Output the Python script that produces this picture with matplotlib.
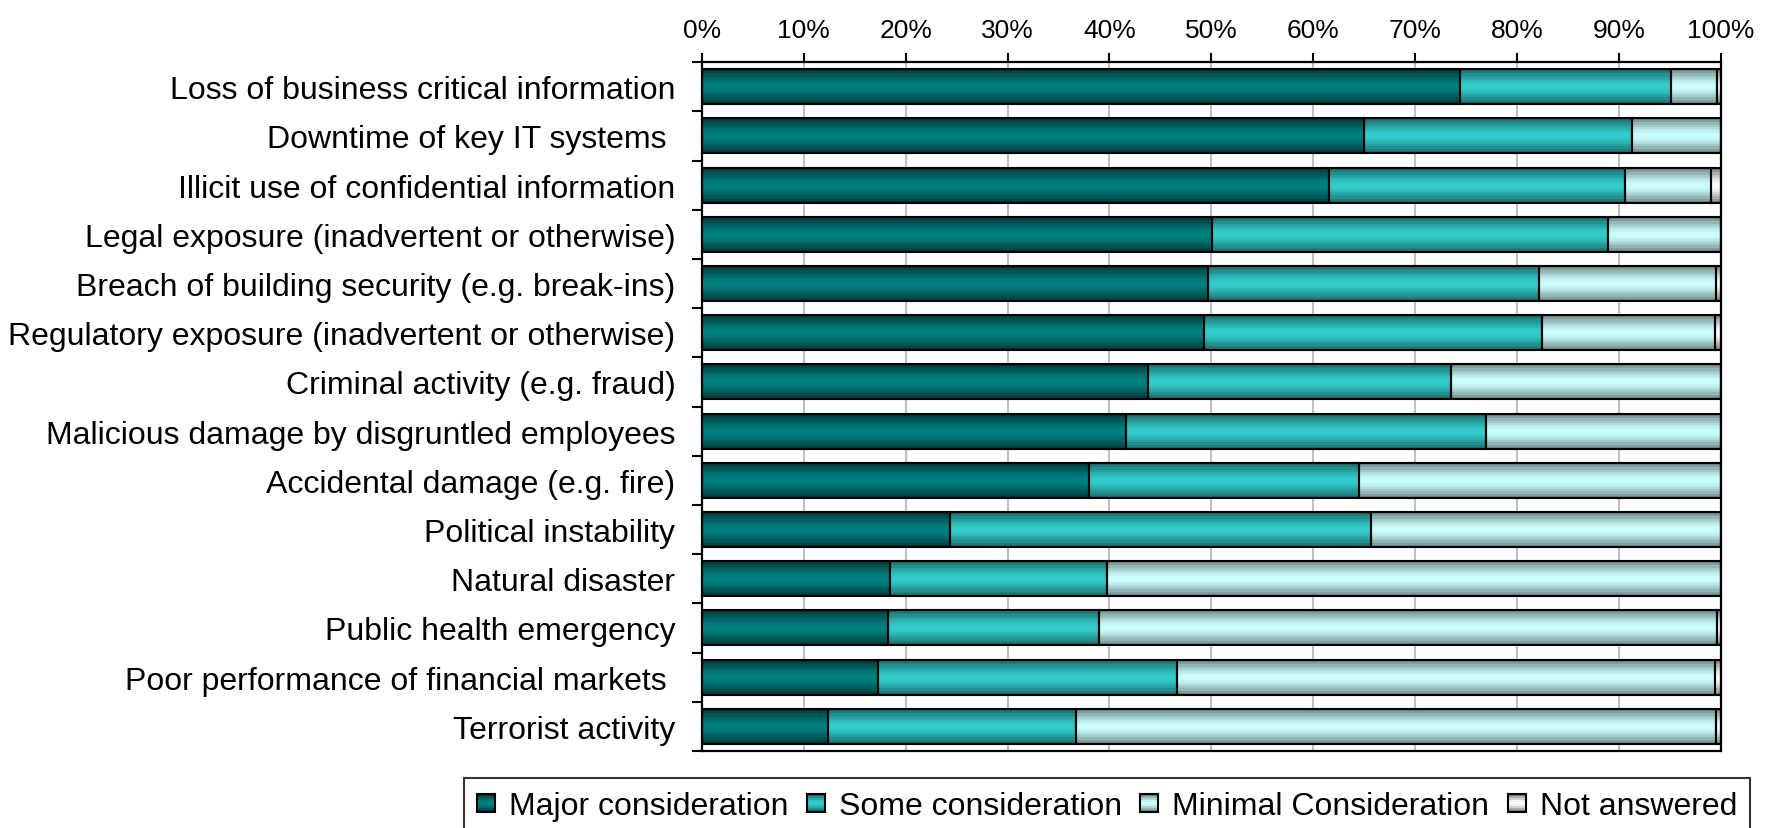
import matplotlib
matplotlib.use('Agg')
import matplotlib.pyplot as plt
import numpy as np
from matplotlib.patches import Rectangle
from matplotlib.legend_handler import HandlerBase

plt.rcParams['font.family'] = ['Liberation Sans', 'DejaVu Sans']

categories = ['Loss of business critical information',
              'Downtime of key IT systems ',
              'Illicit use of confidential information',
              'Legal exposure (inadvertent or otherwise)',
              'Breach of building security (e.g. break-ins)',
              'Regulatory exposure (inadvertent or otherwise)',
              'Criminal activity (e.g. fraud)',
              'Malicious damage by disgruntled employees',
              'Accidental damage (e.g. fire)',
              'Political instability',
              'Natural disaster',
              'Public health emergency',
              'Poor performance of financial markets ',
              'Terrorist activity']

major = [74.4, 65.0, 61.5, 50.1, 49.7, 49.3, 43.8, 41.6, 38.0, 24.4, 18.5, 18.3, 17.3, 12.4]
some = [20.7, 26.3, 29.1, 38.8, 32.4, 33.1, 29.7, 35.3, 26.5, 41.3, 21.3, 20.7, 29.3, 24.3]
minimal = [4.5, 8.7, 8.4, 11.1, 17.4, 17.0, 26.5, 23.1, 35.5, 34.3, 60.2, 60.6, 52.8, 62.8]
not_answered = [0.4, 0.0, 1.0, 0.0, 0.5, 0.6, 0.0, 0.0, 0.0, 0.0, 0.0, 0.4, 0.6, 0.5]

series_names = ['Major consideration', 'Some consideration',
                'Minimal Consideration', 'Not answered']
xticks = [0, 10, 20, 30, 40, 50, 60, 70, 80, 90, 100]

# (edge colour, middle colour) of each gradient
grads = [('#003838', '#008080'),
         ('#1c6868', '#33cccc'),
         ('#6e8686', '#ccffff'),
         ('#7a7a7a', '#ffffff')]


def grad_colors(edge, mid, n=16, p=1.6):
    e = np.array(matplotlib.colors.to_rgb(edge))
    m = np.array(matplotlib.colors.to_rgb(mid))
    t = np.abs(np.linspace(-1, 1, n))
    return np.array([m + (e - m) * (v ** p) for v in t])


class GradHandler(HandlerBase):
    def __init__(self, edge, mid):
        super().__init__()
        self.edge = edge
        self.mid = mid

    def create_artists(self, legend, orig_handle, xdescent, ydescent,
                       width, height, fontsize, trans):
        w = 18 * 72 / 100.0
        h = 18 * 72 / 100.0
        x0 = -xdescent + (width - w) / 2
        y0 = -ydescent + (height - h) / 2
        cols = grad_colors(self.edge, self.mid, n=9)
        arts = []
        for k, c in enumerate(cols):
            arts.append(Rectangle((x0, y0 + k * h / len(cols)), w, h / len(cols) + 0.2,
                                  facecolor=c, edgecolor='none', transform=trans))
        arts.append(Rectangle((x0, y0), w, h, facecolor='none', edgecolor='black',
                              linewidth=1.5, transform=trans))
        return arts


fig = plt.figure(figsize=(17.69, 8.29), dpi=100)
ax = fig.add_axes([0.3967, 0.0929, 0.5762, 0.831])

y = np.arange(len(categories))
h = 0.71
data = [major, some, minimal, not_answered]
left = np.zeros(len(categories))
for s, vals in enumerate(data):
    vals = np.array(vals)
    cols = grad_colors(*grads[s])[:, None, :]
    for i in range(len(categories)):
        if vals[i] <= 0:
            continue
        ax.imshow(cols, extent=(left[i], left[i] + vals[i], y[i] + h / 2, y[i] - h / 2),
                  aspect='auto', interpolation='nearest', zorder=2)
    ax.barh(y, vals, left=left, height=h, fill=False, edgecolor='black',
            linewidth=1.5, zorder=3)
    left += vals

ax.set_xlim(0, 100)
ax.set_ylim(len(categories) - 0.5, -0.5)
ax.xaxis.tick_top()
ax.set_xticks(xticks)
ax.set_xticklabels([str(v) + '%' for v in xticks], fontsize=19)
ax.tick_params(axis='x', direction='out', length=6.5, width=1.5, pad=8)
ax.set_yticks(y)
ax.set_yticklabels(categories, fontsize=23)
ax.tick_params(axis='y', which='major', length=0, pad=19)
ax.set_yticks(np.arange(-0.5, len(categories), 1), minor=True)
ax.tick_params(axis='y', which='minor', direction='out', length=7, width=1.5)
ax.grid(axis='x', color='#c0c0c0', linewidth=1.5, zorder=0)
ax.set_axisbelow(True)
for sp in ax.spines.values():
    sp.set_linewidth(1.6)
    sp.set_color('black')

handles = [Rectangle((0, 0), 1, 1) for _ in series_names]
hmap = {hd: GradHandler(*grads[k]) for k, hd in enumerate(handles)}
leg = fig.legend(handles, series_names, handler_map=hmap, loc='upper left',
                 bbox_to_anchor=(464 / 1769, 1 - 779 / 829), ncol=4, fontsize=23,
                 frameon=True, fancybox=False, borderaxespad=0, handlelength=0.56,
                 handleheight=0.8, handletextpad=0.44, columnspacing=0.58,
                 borderpad=0.4)
leg.get_frame().set_edgecolor('black')
leg.get_frame().set_linewidth(1.5)

fig.savefig('out.png', dpi=100)
